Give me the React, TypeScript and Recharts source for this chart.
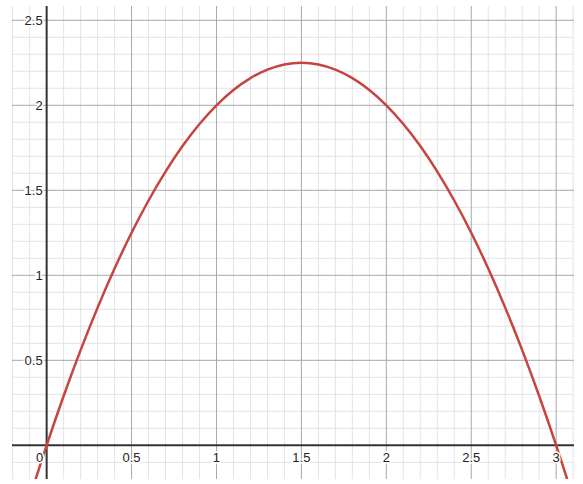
import { LineChart, Line, XAxis, YAxis, ReferenceLine, ReferenceDot } from "recharts";

// points
const xs = [-0.2, -0.1, 0, 0.1, 0.2, 0.3, 0.4, 0.5, 0.6, 0.7, 0.8, 0.9, 1.0, 1.1, 1.2, 1.3, 1.4, 1.5, 1.6, 1.7, 1.8, 1.9, 2.0, 2.1, 2.2, 2.3, 2.4, 2.5, 2.6, 2.7, 2.8, 2.9, 3.0, 3.1, 3.2];
const ys = [-0.64, -0.31, 0, 0.29, 0.56, 0.81, 1.04, 1.25, 1.44, 1.61, 1.76, 1.89, 2.0, 2.09, 2.16, 2.21, 2.24, 2.25, 2.24, 2.21, 2.16, 2.09, 2.0, 1.89, 1.76, 1.61, 1.44, 1.25, 1.04, 0.81, 0.56, 0.29, 0, -0.31, -0.64];

const minorX = [-0.2, -0.1, 0.1, 0.2, 0.3, 0.4, 0.6, 0.7, 0.8, 0.9, 1.1, 1.2, 1.3, 1.4, 1.6, 1.7, 1.8, 1.9, 2.1, 2.2, 2.3, 2.4, 2.6, 2.7, 2.8, 2.9, 3.1];
const minorY = [-0.1, 0.1, 0.2, 0.3, 0.4, 0.6, 0.7, 0.8, 0.9, 1.1, 1.2, 1.3, 1.4, 1.6, 1.7, 1.8, 1.9, 2.1, 2.2, 2.3, 2.4, 2.6];
const majorX = [0.5, 1, 1.5, 2, 2.5, 3];
const majorY = [0.5, 1, 1.5, 2, 2.5];
const xLabels = ["0.5", "1", "1.5", "2", "2.5", "3"];
const yLabels = ["0.5", "1", "1.5", "2", "2.5"];

const data = xs.map((x, i) => ({ x, y: ys[i] }));

const FONT = "'Liberation Sans', Arial, sans-serif";

const lbl = (text: string, dx: number, dy: number, anchor: "start" | "middle" | "end") =>
  (p: any) => (
    <text x={p.cx + dx} y={p.cy + dy} textAnchor={anchor} dominantBaseline="central"
      fontFamily={FONT} fontSize={13} fill="#222" stroke="#fff" strokeWidth={3} paintOrder="stroke">
      {text}
    </text>
  );

export default function App() {
  return (
    <div style={{ position: "fixed", left: 0, top: 0, width: 583, height: 484, background: "#fff" }}>
      <LineChart width={583} height={484} data={data} margin={{ top: 6, right: 9, left: 12, bottom: 5 }}>
        <XAxis dataKey="x" type="number" domain={[-0.204, 3.105]} allowDataOverflow hide />
        <YAxis type="number" domain={[-0.198, 2.584]} allowDataOverflow hide />

        {minorX.map((v) => <ReferenceLine key={"mx" + v} x={v} stroke="#e4e4e4" strokeWidth={1} />)}
        {minorY.map((v) => <ReferenceLine key={"my" + v} y={v} stroke="#e4e4e4" strokeWidth={1} />)}
        {majorX.map((v) => <ReferenceLine key={"Mx" + v} x={v} stroke="#a8a8a8" strokeWidth={1} />)}
        {majorY.map((v) => <ReferenceLine key={"My" + v} y={v} stroke="#a8a8a8" strokeWidth={1} />)}
        <ReferenceLine x={0} stroke="#333" strokeWidth={2} />
        <ReferenceLine y={0} stroke="#333" strokeWidth={2} />

        <Line dataKey="y" type="monotone" stroke="#c74440" strokeWidth={2.5} dot={false} isAnimationActive={false} />

        {majorX.map((v, i) => (
          <ReferenceDot key={"lx" + v} x={v} y={0} r={0} shape={lbl(xLabels[i], 0, 12, "middle")} />
        ))}
        {majorY.map((v, i) => (
          <ReferenceDot key={"ly" + v} x={0} y={v} r={0} shape={lbl(yLabels[i], -4, 0, "end")} />
        ))}
        <ReferenceDot x={0} y={0} r={0} shape={lbl("0", -7, 12, "middle")} />
      </LineChart>
    </div>
  );
}
